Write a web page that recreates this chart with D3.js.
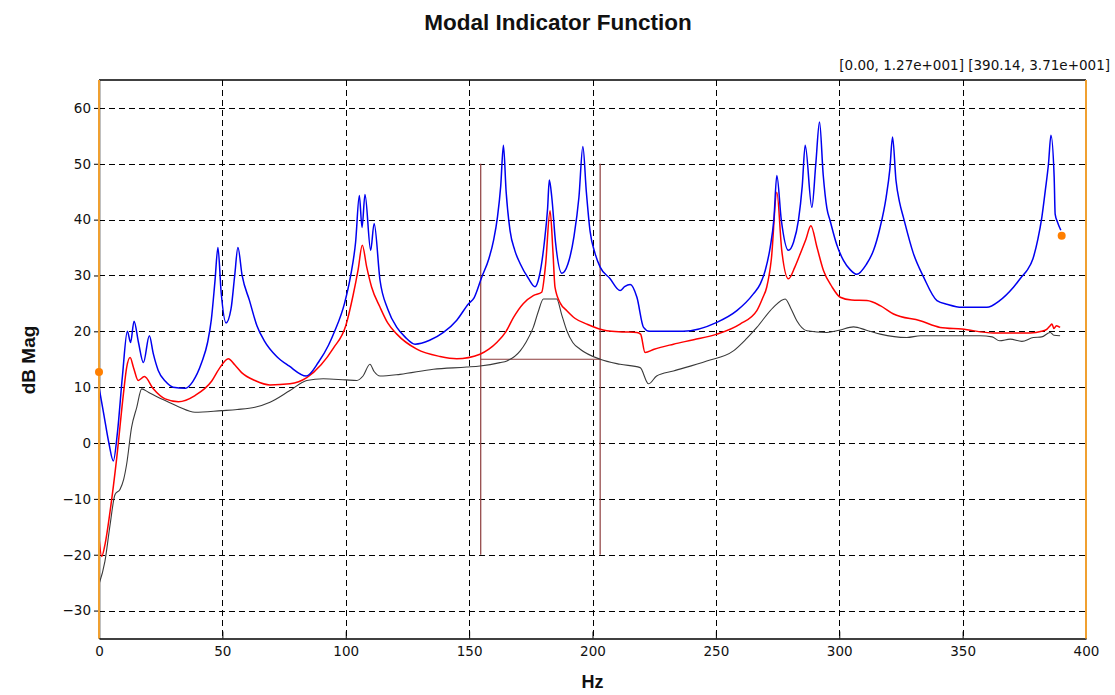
<!DOCTYPE html>
<html>
<head>
<meta charset="utf-8">
<script src="https://cdn.jsdelivr.net/npm/d3@7"></script>
<style>
body{margin:0;background:#fff;}
svg{display:block;}
</style>
</head>
<body>
<svg id="chart" width="1115" height="695"></svg>
<script>
// ---------- data ----------
const chartTitle = "Modal Indicator Function";
const xLabel = "Hz";
const yLabel = "dB Mag";
const cursorText = "[0.00, 1.27e+001] [390.14, 3.71e+001]";
const xTicks = [0, 50, 100, 150, 200, 250, 300, 350, 400];
const yTicks = [-30, -20, -10, 0, 10, 20, 30, 40, 50, 60];
const xDomain = [0, 400];
const yDomain = [-35, 65];

// [Hz, dB]
const blueSeries = [[0,10],[2,5],[4,0],[5.8,-3.2],[7.5,2],[9.5,12],[11.5,20],[12.8,18],[14.2,21.8],[16,18],[18,14.4],[20.4,19.2],[22,16],[24,13],[27,11],[30,10],[35,9.8],[38,11],[41.6,14.4],[44,18],[45.5,22],[47,29],[48.2,35],[49.5,27],[51.5,21.5],[53.5,24],[55,30],[56.3,35],[58,30],[61,25.5],[64,21],[67,18.3],[72,15.5],[77,13.8],[84,12],[89,14.5],[93,17.5],[95.5,20],[99.5,25],[102,30],[104,36],[105.5,44.3],[106.6,38.6],[107.8,44.5],[110.1,34.5],[111.5,39.3],[113.9,29.1],[117,24],[120.7,20.7],[124,19],[128.1,17.7],[134,18.4],[139.6,19.8],[145,22],[149.7,24.9],[152,26],[155.1,29.7],[158,33],[159.9,36.3],[161.5,40.5],[162.8,46],[163.9,53.3],[165,45],[166.6,38],[168.5,34.5],[170.7,32.1],[174,29.5],[176.7,28],[178.5,30],[180.5,36],[181.8,42],[182.5,47.1],[183.5,44],[185,36],[187.6,30.4],[190,32],[192.5,37],[194.5,44],[196.1,53.1],[197.5,45],[199,38],[201,34],[203.1,31.5],[207,29.5],[211.2,27.3],[213,28],[215.3,28.4],[218,26.1],[220.7,20.7],[223,20],[236.7,20],[250.4,21.6],[258.5,23.7],[265.2,26.7],[268,28.5],[270,30.9],[272,35],[273.5,40],[274.7,47.9],[276.5,40],[279.4,34.5],[281.5,36],[283.5,40],[285,46],[286.2,53.3],[288.9,42.2],[290.5,50],[292,57.5],[293.5,48],[295,42],[296.3,39.8],[299,35.5],[301.7,32.7],[304.5,31],[307.1,30.2],[311,32],[313.9,34.5],[316.5,38.5],[319,44],[320.5,49],[321.6,54.8],[323,47],[324.5,43],[326,40.4],[330,34],[334.2,29.7],[339.6,25.5],[344,24.8],[349.7,24.3],[359.8,24.3],[365,25.5],[370.6,27.9],[374,29.8],[376.1,30.9],[378.5,33],[380.5,36.5],[382.1,40.4],[383.5,45.2],[384.8,50],[385.8,55.1],[387.1,47.6],[387.5,41],[388.5,39.5],[389.8,38.1]];

const redSeries = [[0,-17],[1.1,-20.3],[2.5,-18],[4.5,-12.2],[7.2,-2.6],[9.9,8.8],[11.2,13.5],[12.6,15.3],[14,13.5],[15.9,11.2],[18.4,11.9],[22,9.7],[26.8,7.9],[32.2,7.4],[38.9,8.5],[45.7,11.1],[49,13.5],[52.4,15.1],[55,14],[57.8,12.6],[63.2,11.2],[69.3,10.4],[77.4,10.6],[84.2,11.7],[90,14],[95,17],[100,21],[103,26.5],[105,31],[106.7,35.4],[108.5,31.5],[110.5,27.9],[113.9,24.3],[117,21.5],[120.7,19.5],[128.8,16.8],[138.2,15.5],[145,15.1],[154.4,15.9],[158,16.8],[161.2,18],[165,20],[168,22.5],[172,25],[176,26.4],[179.4,27],[181,32],[182.8,41.6],[184,34],[184.8,27.9],[187,25],[189.6,23.7],[193,22.3],[197.7,21.3],[205.8,20.1],[212,19.9],[218,19.8],[219.5,19.5],[221.3,16.2],[225,16.8],[232.8,17.7],[241,18.5],[250.4,19.5],[259.8,21.3],[266.6,23.7],[269,26],[270.6,27.9],[272.5,33],[274.7,44.9],[276.7,34.5],[279.4,29.4],[282,31.5],[284.2,33.9],[286.5,36.5],[288.5,38.9],[291,35],[293.6,30.9],[297,28],[300.4,26.1],[305,25.6],[311.2,25.5],[316.6,24.6],[322,23.1],[332.8,21.9],[340.9,20.7],[349.7,20.4],[362.5,19.7],[377.4,19.7],[382,20],[384.2,20.4],[385.5,21],[386.2,21.3],[387,20.5],[388,21],[389.5,20.7]];

const blackSeries = [[0,-25.3],[2.4,-21.2],[4.5,-14.6],[6.5,-9.2],[8.5,-8.3],[10,-6.5],[11.2,-3.8],[13.2,2.8],[15.3,6.4],[17.3,9.7],[20,9.1],[25.4,7.9],[32.2,6.5],[38.9,5.5],[49.7,5.8],[56,6],[63.2,6.4],[69.3,7.3],[77.4,9.4],[84.2,11.2],[90.9,11.5],[100,11.3],[104.5,11.2],[107,12],[109.8,14.1],[111.5,12.8],[113.9,12],[122,12.3],[135.5,13.2],[149,13.6],[154.4,13.8],[162.5,14.4],[165.3,14.7],[170.7,16.5],[173,18],[176,20.7],[178,23.5],[180.1,25.8],[185.5,25.8],[187.5,23],[189.6,20.1],[192,18],[195,16.8],[203.1,15],[211.2,14.1],[219.3,13.5],[222.7,10.6],[226,12],[232.8,12.9],[246.3,14.7],[257.1,16.5],[262,18.5],[266.6,20.7],[273.3,24.3],[278.1,25.8],[280.5,24],[282.8,21.9],[286.9,20.1],[295,19.8],[300,20.2],[305.8,20.8],[311,20.2],[316.6,19.5],[327.4,18.9],[333,19.2],[343.6,19.2],[357.1,19.2],[362,19],[365,18.3],[369.3,18.6],[374,18.2],[378.7,18.9],[382,19],[385.5,19.8],[387,19.3],[389.5,19.2]];

// band selection box: [left Hz, right Hz], [bottom dB, top dB], level dB
const bandHz = [154.7, 203.1];
const bandDb = [-20, 50];
const bandLevel = 15;

// cursor points [Hz, dB]
const cursorPoints = [[0, 12.7], [390.14, 37.1]];

// ---------- drawing ----------
const svg = d3.select("#chart");
const W = 1115, H = 695;
const margin = {left: 99, right: W - 1086, top: 80, bottom: H - 638.5};

const x = d3.scaleLinear().domain(xDomain).range([margin.left, W - margin.right]);
const y = d3.scaleLinear().domain(yDomain).range([H - margin.bottom, margin.top]);

svg.append("rect").attr("width", W).attr("height", H).attr("fill", "#fff");

// grid
const grid = svg.append("g").attr("stroke", "#000").attr("stroke-width", 1)
  .attr("stroke-dasharray", "6,4").attr("shape-rendering", "crispEdges");
grid.selectAll("line.h").data(yTicks).join("line")
  .attr("x1", x(xDomain[0])).attr("x2", x(xDomain[1]))
  .attr("y1", d => Math.round(y(d)) + 0.5).attr("y2", d => Math.round(y(d)) + 0.5);
grid.selectAll("line.v").data(xTicks.filter(d => d > xDomain[0] && d < xDomain[1])).join("line")
  .attr("y1", y(yDomain[1])).attr("y2", y(yDomain[0]))
  .attr("x1", d => Math.round(x(d)) + 0.5).attr("x2", d => Math.round(x(d)) + 0.5);

// axes
const xAxis = d3.axisBottom(x).tickValues(xTicks).tickSize(-7).tickPadding(8).tickSizeOuter(0);
const yAxis = d3.axisLeft(y).tickValues(yTicks).tickSize(5).tickPadding(3).tickSizeOuter(0);
const gx = svg.append("g").attr("transform", `translate(0,${y(yDomain[0])})`).call(xAxis);
const gy = svg.append("g").attr("transform", `translate(${x(xDomain[0])},0)`).call(yAxis);
[gx, gy].forEach(g => {
  g.selectAll("text").attr("font-family", "'DejaVu Sans', Verdana, sans-serif")
    .attr("font-size", "13.5px").attr("fill", "#111");
  g.selectAll("line").attr("stroke", "#000");
  g.select(".domain").attr("stroke", "#000").attr("stroke-width", 1.5);
});

// top border
svg.append("line").attr("x1", x(xDomain[0])).attr("x2", x(xDomain[1]))
  .attr("y1", y(yDomain[1])).attr("y2", y(yDomain[1])).attr("stroke", "#000").attr("stroke-width", 1.5);

// band selection box
const band = svg.append("g").attr("stroke", "#8c3c3c").attr("stroke-width", 1.2).attr("fill", "none");
band.selectAll("line.vb").data(bandHz).join("line")
  .attr("x1", d => x(d)).attr("x2", d => x(d)).attr("y1", y(bandDb[0])).attr("y2", y(bandDb[1]));
band.append("line").attr("x1", x(bandHz[0])).attr("x2", x(bandHz[1]))
  .attr("y1", y(bandLevel)).attr("y2", y(bandLevel));

// series
const line = d3.line().x(d => x(d[0])).y(d => y(d[1])).curve(d3.curveMonotoneX);
const series = [
  {data: blackSeries, color: "#3a3a3a", width: 1.1},
  {data: redSeries, color: "#ff0000", width: 1.5},
  {data: blueSeries, color: "#0000f0", width: 1.5}
];
svg.append("g").selectAll("path").data(series).join("path")
  .attr("d", d => line(d.data)).attr("fill", "none")
  .attr("stroke", d => d.color).attr("stroke-width", d => d.width)
  .attr("stroke-linejoin", "round");

// cursor lines (left and right edges)
svg.append("g").attr("stroke", "#f0a030").attr("stroke-width", 2)
  .selectAll("line").data(xDomain).join("line")
  .attr("x1", d => x(d)).attr("x2", d => x(d))
  .attr("y1", y(yDomain[1])).attr("y2", y(yDomain[0]));

svg.append("g").selectAll("circle").data(cursorPoints).join("circle")
  .attr("cx", d => x(d[0])).attr("cy", d => y(d[1])).attr("r", 4).attr("fill", "#ff7f00");

// texts
svg.append("text").attr("x", 558).attr("y", 30).attr("text-anchor", "middle")
  .attr("font-family", "'Liberation Sans', Arial, sans-serif").attr("font-weight", "bold")
  .attr("font-size", "22.5px").attr("fill", "#111").text(chartTitle);

svg.append("text").attr("x", 1110).attr("y", 70).attr("text-anchor", "end")
  .attr("font-family", "'DejaVu Sans', Verdana, sans-serif")
  .attr("font-size", "13.5px").attr("fill", "#111").text(cursorText);

svg.append("text").attr("x", (x(xDomain[0]) + x(xDomain[1])) / 2).attr("y", 688).attr("text-anchor", "middle")
  .attr("font-family", "'Liberation Sans', Arial, sans-serif").attr("font-weight", "bold")
  .attr("font-size", "18px").attr("fill", "#111").text(xLabel);

svg.append("text").attr("transform", `translate(35,360) rotate(-90)`).attr("text-anchor", "middle")
  .attr("font-family", "'Liberation Sans', Arial, sans-serif").attr("font-weight", "bold")
  .attr("font-size", "19px").attr("fill", "#111").text(yLabel);
</script>
</body>
</html>
